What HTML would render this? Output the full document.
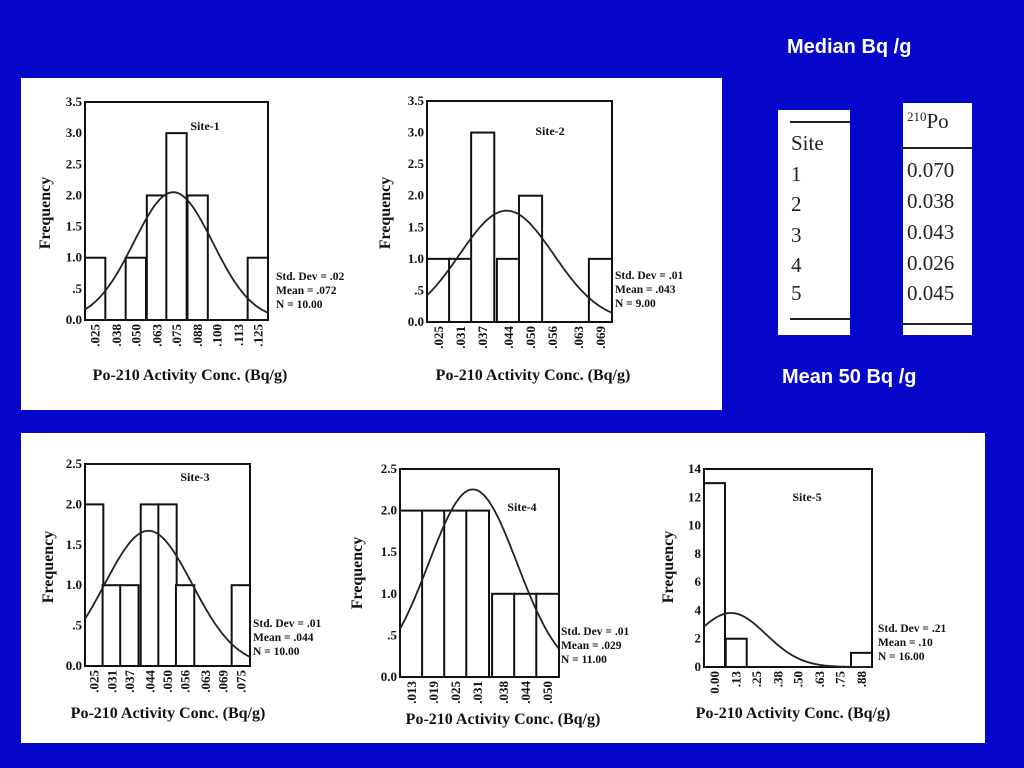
<!DOCTYPE html>
<html><head><meta charset="utf-8">
<style>
html,body{margin:0;padding:0;background:#0707cc;width:1024px;height:768px;overflow:hidden}
svg{display:block}
.t{font-family:"Liberation Serif",serif;font-weight:bold;fill:#111}
.h{font-family:"Liberation Sans",sans-serif;font-weight:bold;fill:#fff;font-size:20px}
.tb{font-family:"Liberation Serif",serif;fill:#222;font-size:21px}
</style></head>
<body>
<svg id="root" width="1024" height="768" viewBox="0 0 1024 768">
<rect x="0" y="0" width="1024" height="768" fill="#0707cc"/>
<rect x="21" y="78" width="701" height="332" fill="#fff"/>
<rect x="21" y="433" width="964" height="310" fill="#fff"/>
<text class="h" x="787" y="53">Median Bq /g</text>
<text class="h" x="782" y="383">Mean 50 Bq /g</text>
<g>
<rect x="778" y="110" width="72" height="225" fill="#fff"/>
<rect x="903" y="103" width="69" height="232" fill="#fff"/>
<line x1="790" y1="122" x2="850" y2="122" stroke="#222" stroke-width="2"/>
<line x1="790" y1="319" x2="850" y2="319" stroke="#222" stroke-width="2"/>
<line x1="903" y1="148" x2="972" y2="148" stroke="#222" stroke-width="2"/>
<line x1="903" y1="324" x2="972" y2="324" stroke="#222" stroke-width="2"/>
<text class="tb" x="791" y="150">Site</text>
<text class="tb" x="791" y="181">1</text><text class="tb" x="791" y="211">2</text><text class="tb" x="791" y="242">3</text><text class="tb" x="791" y="272">4</text><text class="tb" x="791" y="300">5</text>
<text class="tb" x="907" y="128"><tspan font-size="13" dy="-7">210</tspan><tspan dy="7">Po</tspan></text>
<text class="tb" x="907" y="177">0.070</text><text class="tb" x="907" y="208">0.038</text><text class="tb" x="907" y="239">0.043</text><text class="tb" x="907" y="270">0.026</text><text class="tb" x="907" y="300">0.045</text>
</g>
</svg>
<script>
// ---- data ----
const ticks1 = [".025",".038",".050",".063",".075",".088",".100",".113",".125"];
const freq1 = [1,0,1,2,3,2,0,0,1];
const mean1 = 0.073, sd1 = 0.0243;
const yTicks1 = ["0.0",".5","1.0","1.5","2.0","2.5","3.0","3.5"];
const stats1 = ["Std. Dev = .02","Mean = .072","N = 10.00"];

const ticks2 = [".025",".031",".037",".044",".050",".056",".063",".069"];
const freq2 = [1,1,3,1,2,0,0,1];
const mean2 = 0.0435, sd2 = 0.0128;
const yTicks2 = ["0.0",".5","1.0","1.5","2.0","2.5","3.0","3.5"];
const stats2 = ["Std. Dev = .01","Mean = .043","N = 9.00"];

const ticks3 = [".025",".031",".037",".044",".050",".056",".063",".069",".075"];
const freq3 = [2,1,1,2,2,1,0,0,1];
const mean3 = 0.0435, sd3 = 0.0149;
const yTicks3 = ["0.0",".5","1.0","1.5","2.0","2.5"];
const stats3 = ["Std. Dev = .01","Mean = .044","N = 10.00"];

const ticks4 = [".013",".019",".025",".031",".038",".044",".050"];
const freq4 = [2,2,2,2,1,1,1];
const mean4 = 0.0297, sd4 = 0.012;
const yTicks4 = ["0.0",".5","1.0","1.5","2.0","2.5"];
const stats4 = ["Std. Dev = .01","Mean = .029","N = 11.00"];

const ticks5 = ["0.00",".13",".25",".38",".50",".63",".75",".88"];
const freq5 = [13,2,0,0,0,0,0,1];
const mean5 = 0.098, sd5 = 0.21;
const yTicks5 = ["0","2","4","6","8","10","12","14"];
const stats5 = ["Std. Dev = .21","Mean = .10","N = 16.00"];

// ---- layout ----
const charts = [
 {id:1,ticks:ticks1,freq:freq1,mean:mean1,sd:sd1,yt:yTicks1,ymax:3.5,stats:stats1,box:[85,102,268,320],site:[205,130],st:[276,280],ttl:[190,380],fq:[45,213]},
 {id:2,ticks:ticks2,freq:freq2,mean:mean2,sd:sd2,yt:yTicks2,ymax:3.5,stats:stats2,box:[427,101,612,322],site:[550,135],st:[615,279],ttl:[533,380],fq:[385,213]},
 {id:3,ticks:ticks3,freq:freq3,mean:mean3,sd:sd3,yt:yTicks3,ymax:2.5,stats:stats3,box:[85,464,250,666],site:[195,481],st:[253,627],ttl:[168,718],fq:[48,567]},
 {id:4,ticks:ticks4,freq:freq4,mean:mean4,sd:sd4,yt:yTicks4,ymax:2.5,stats:stats4,box:[400,469,559,677],site:[522,511],st:[561,635],ttl:[503,724],fq:[357,573]},
 {id:5,ticks:ticks5,freq:freq5,mean:mean5,sd:sd5,yt:yTicks5,ymax:14,stats:stats5,box:[704,469,872,667],site:[807,501],st:[878,632],ttl:[793,718],fq:[668,567]}
];
const NS="http://www.w3.org/2000/svg";
const root=document.getElementById('root');
function mk(tag,attrs,parent){const e=document.createElementNS(NS,tag);for(const k in attrs)e.setAttribute(k,attrs[k]);parent.appendChild(e);return e;}

charts.forEach(c=>{
 const [x0,y0,x1,y1]=c.box;
 const g=mk('g',{},root);
 
 
 const n=c.freq.length;
 const tv=c.ticks.map(t=>parseFloat(t));
 const bw=(tv[n-1]-tv[0])/(n-1);
 const vmin=tv[0]-bw/2, vmax=tv[n-1]+bw/2;
 const xs=v=>x0+(v-vmin)/(vmax-vmin)*(x1-x0);
 const ys=f=>y1-f/c.ymax*(y1-y0);
 c.freq.forEach((f,i)=>{
  if(f<=0)return;
  const r=mk('rect',{x:xs(tv[i]-bw/2),y:ys(f),width:xs(tv[i]+bw/2)-xs(tv[i]-bw/2),height:y1-ys(f),fill:'#fff',stroke:'#111','stroke-width':2},g);
  
  
 });
 const b=mk('rect',{x:x0,y:y0,width:x1-x0,height:y1-y0,fill:'none',stroke:'#111','stroke-width':2},g);
 
 
 const N=c.freq.reduce((a,b)=>a+b,0);
 let d='';
 for(let k=0;k<=120;k++){
  const v=vmin+(vmax-vmin)*k/120;
  const f=N*bw/(c.sd*Math.sqrt(2*Math.PI))*Math.exp(-0.5*((v-c.mean)/c.sd)**2);
  d+=(k?'L':'M')+xs(v).toFixed(1)+','+Math.max(y0,ys(f)).toFixed(1);
 }
 const p=mk('path',{d:d,fill:'none',stroke:'#222','stroke-width':1.8},g);
 
 
 c.yt.forEach((t,i)=>{
  const val=i*c.ymax/(c.yt.length-1);
  const tx=mk('text',{x:x0-3,y:ys(val)+4,'text-anchor':'end','font-size':13,class:'t'},g);
  tx.textContent=t;
  
  
 });
 c.ticks.forEach((t,i)=>{
  const x=xs(tv[i]);
  const tx=mk('text',{x:0,y:0,'text-anchor':'end','font-size':13,class:'t',transform:`translate(${x+4.5},${y1+4}) rotate(-90)`},g);
  tx.textContent=t;
  
  
 });
 const s=mk('text',{x:c.site[0],y:c.site[1],'text-anchor':'middle','font-size':12,class:'t'},g);
 s.textContent='Site-'+c.id;
 
 
 c.stats.forEach((t,i)=>{
  const tx=mk('text',{x:c.st[0],y:c.st[1]+i*14,'font-size':11.5,class:'t'},g);
  tx.textContent=t;
  
  
 });
 const tt=mk('text',{x:c.ttl[0],y:c.ttl[1],'text-anchor':'middle','font-size':16,class:'t'},g);
 tt.textContent='Po-210 Activity Conc. (Bq/g)';
 
 
 const fq=mk('text',{x:0,y:0,'text-anchor':'middle','font-size':16,class:'t',transform:`translate(${c.fq[0]+5},${c.fq[1]}) rotate(-90)`},g);
 fq.textContent='Frequency';
 
 
});
</script>
</body></html>
